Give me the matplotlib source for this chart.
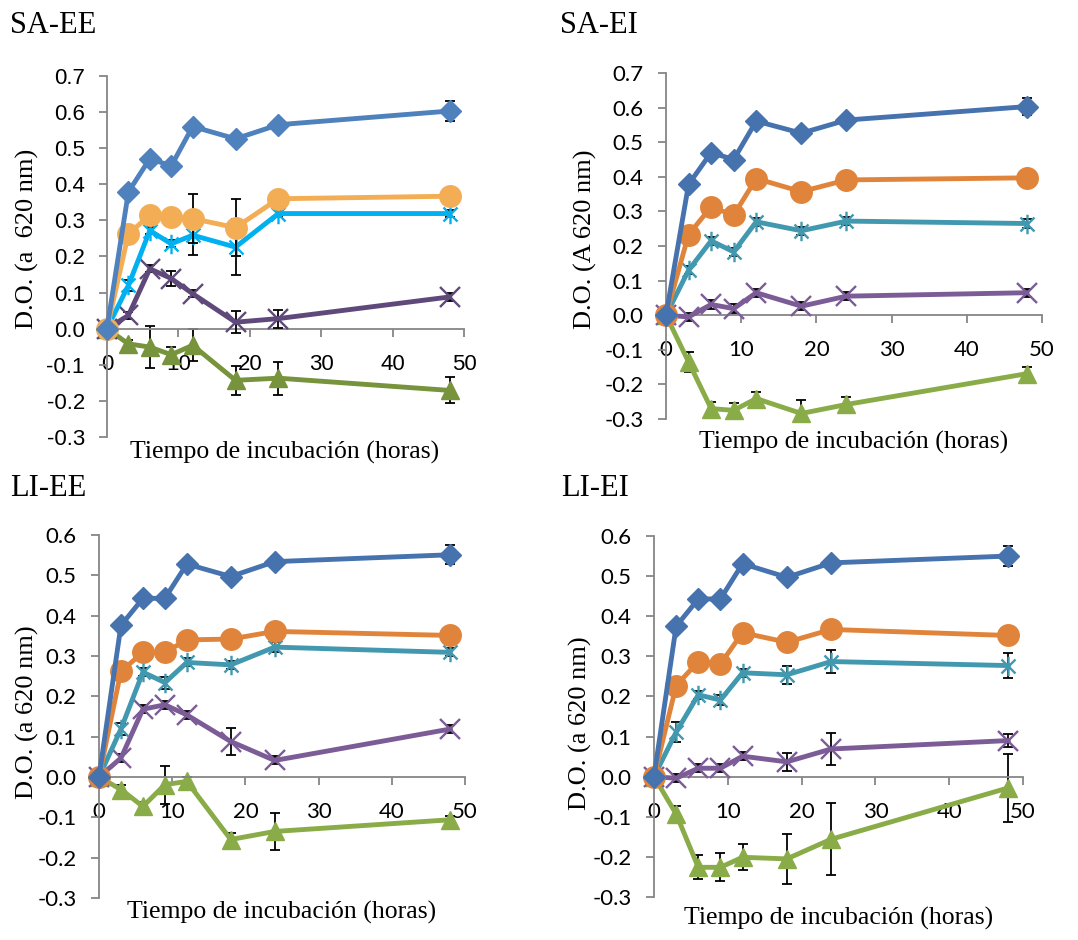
import matplotlib
matplotlib.use("Agg")
import matplotlib.pyplot as plt
from matplotlib.path import Path

# =====================
# Data (D.O. at 620 nm vs incubation time)
# =====================
horas = [0, 3, 6, 9, 12, 18, 24, 48]

sa_ee_azul = [0, 0.379, 0.471, 0.451, 0.560, 0.526, 0.565, 0.603]
sa_ee_azul_err = [0, 0.01, 0.01, 0.01, 0.01, 0.01, 0.01, 0.027]
sa_ee_naranja = [0, 0.263, 0.314, 0.309, 0.305, 0.280, 0.360, 0.367]
sa_ee_naranja_err = [0, 0.01, 0.01, 0.01, 0.068, 0.080, 0.01, 0.01]
sa_ee_cian = [0, 0.120, 0.272, 0.235, 0.259, 0.226, 0.319, 0.319]
sa_ee_cian_err = [0, 0.015, 0.01, 0.01, 0.055, 0.078, 0.01, 0.01]
sa_ee_morado = [0, 0.037, 0.166, 0.139, 0.097, 0.018, 0.028, 0.088]
sa_ee_morado_err = [0, 0.01, 0.01, 0.02, 0.01, 0.03, 0.025, 0.01]
sa_ee_verde = [0, -0.042, -0.051, -0.072, -0.046, -0.143, -0.137, -0.171]
sa_ee_verde_err = [0, 0.01, 0.059, 0.02, 0.044, 0.04, 0.046, 0.036]

sa_ei_azul = [0, 0.378, 0.470, 0.450, 0.561, 0.526, 0.564, 0.603]
sa_ei_azul_err = [0, 0.01, 0.01, 0.01, 0.01, 0.01, 0.01, 0.025]
sa_ei_naranja = [0, 0.233, 0.313, 0.289, 0.395, 0.357, 0.391, 0.397]
sa_ei_naranja_err = [0, 0.01, 0.01, 0.01, 0.01, 0.01, 0.01, 0.02]
sa_ei_cian = [0, 0.130, 0.215, 0.183, 0.270, 0.244, 0.272, 0.265]
sa_ei_cian_err = [0, 0.012, 0.012, 0.012, 0.012, 0.012, 0.012, 0.012]
sa_ei_morado = [0, -0.005, 0.031, 0.019, 0.065, 0.026, 0.055, 0.065]
sa_ei_morado_err = [0, 0.012, 0.012, 0.012, 0.012, 0.012, 0.012, 0.012]
sa_ei_verde = [0, -0.135, -0.270, -0.275, -0.241, -0.284, -0.258, -0.169]
sa_ei_verde_err = [0, 0.03, 0.02, 0.02, 0.02, 0.04, 0.022, 0.02]

li_ee_azul = [0, 0.376, 0.443, 0.443, 0.528, 0.497, 0.534, 0.551]
li_ee_azul_err = [0, 0.01, 0.01, 0.01, 0.01, 0.01, 0.01, 0.023]
li_ee_naranja = [0, 0.262, 0.309, 0.309, 0.340, 0.342, 0.361, 0.351]
li_ee_naranja_err = [0, 0.01, 0.01, 0.01, 0.01, 0.01, 0.01, 0.01]
li_ee_cian = [0, 0.119, 0.260, 0.234, 0.284, 0.278, 0.322, 0.309]
li_ee_cian_err = [0, 0.015, 0.01, 0.015, 0.01, 0.01, 0.012, 0.01]
li_ee_morado = [0, 0.047, 0.168, 0.179, 0.154, 0.088, 0.041, 0.119]
li_ee_morado_err = [0, 0.01, 0.01, 0.01, 0.01, 0.033, 0.01, 0.01]
li_ee_verde = [0, -0.031, -0.073, -0.019, -0.011, -0.155, -0.135, -0.106]
li_ee_verde_err = [0, 0.01, 0.01, 0.047, 0.011, 0.015, 0.046, 0.01]

li_ei_azul = [0, 0.375, 0.443, 0.443, 0.531, 0.497, 0.533, 0.550]
li_ei_azul_err = [0, 0.01, 0.01, 0.01, 0.01, 0.01, 0.01, 0.025]
li_ei_naranja = [0, 0.227, 0.287, 0.281, 0.359, 0.335, 0.367, 0.352]
li_ei_naranja_err = [0, 0.01, 0.01, 0.01, 0.01, 0.01, 0.01, 0.01]
li_ei_cian = [0, 0.111, 0.204, 0.191, 0.259, 0.254, 0.287, 0.277]
li_ei_cian_err = [0, 0.025, 0.01, 0.012, 0.01, 0.023, 0.029, 0.031]
li_ei_morado = [0, -0.004, 0.021, 0.021, 0.051, 0.037, 0.069, 0.090]
li_ei_morado_err = [0, 0.01, 0.01, 0.01, 0.01, 0.022, 0.04, 0.017]
li_ei_verde = [0, -0.093, -0.226, -0.226, -0.201, -0.205, -0.156, -0.028]
li_ei_verde_err = [0, 0.02, 0.03, 0.035, 0.032, 0.062, 0.09, 0.085]

W, H = 1078, 940

# Excel-style "star": vertical bar plus an x
star = Path([(0, -1), (0, 1), (-0.72, -0.72), (0.72, 0.72), (-0.72, 0.72), (0.72, -0.72)],
            [Path.MOVETO, Path.LINETO, Path.MOVETO, Path.LINETO, Path.MOVETO, Path.LINETO])

colores_a = ["#4F81BD", "#F3AD55", "#00B0F0", "#5F497A", "#77933C"]
colores_b = ["#4672AE", "#E0843C", "#4198AF", "#7C5C97", "#8AAC48"]

fig = plt.figure(figsize=(W / 100, H / 100), dpi=100)


def draw_panel(box_px, series, colores, ylim, titulo, title_px, ylabel, ylabel_px, xlabel_px, tickfont):
    l, r, t, b = box_px
    ax = fig.add_axes([l / W, 1 - b / H, (r - l) / W, (b - t) / H])
    markers = [("D", 11.5, 1.0), ("o", 15.5, 1.0), (star, 14, 1.7), ("x", 14, 1.7), ("^", 13.5, 1.0)]
    for i, (vals, errs) in enumerate(series):
        mk, ms, mew = markers[i]
        z = 10 - 2 * i
        ax.errorbar(horas, vals, yerr=errs, fmt="none", ecolor="black",
                    elinewidth=1.3, capsize=3.8, capthick=1.3, zorder=z - 0.5)
        ax.plot(horas, vals, color=colores[i], lw=3.5, marker=mk, ms=ms,
                mfc=colores[i], mec=colores[i], mew=mew, zorder=z, clip_on=False)

    ax.set_xlim(0, 50)
    ax.set_ylim(*ylim)
    ax.set_xticks(range(0, 51, 10))
    yt = [round(ylim[0] + 0.1 * k, 1) for k in range(int(round((ylim[1] - ylim[0]) / 0.1)) + 1)]
    ax.set_yticks(yt)
    ax.set_yticklabels([f"{v:.1f}" for v in yt])

    for s in ["top", "right"]:
        ax.spines[s].set_visible(False)
    ax.spines["bottom"].set_position(("data", 0))
    for s in ["left", "bottom"]:
        ax.spines[s].set_color("#868686")
        ax.spines[s].set_linewidth(1.3)
    ax.tick_params(axis="both", direction="out", color="#868686", width=1.3, length=6,
                   labelsize=16)
    ax.tick_params(axis="x", pad=12)
    ax.tick_params(axis="y", pad=10)
    for lab in ax.get_xticklabels() + ax.get_yticklabels():
        lab.set_fontfamily(tickfont)
    ax.patch.set_alpha(0)

    ax.set_xlabel("Tiempo de incubación (horas)", fontfamily="Liberation Serif", fontsize=18.5)
    ax.xaxis.set_label_coords(xlabel_px[0] / W, 1 - xlabel_px[1] / H, transform=fig.transFigure)
    ax.xaxis.label.set_va("center")
    ax.set_ylabel(ylabel, fontfamily="Liberation Serif", fontsize=19)
    ax.yaxis.set_label_coords(ylabel_px[0] / W, 1 - ylabel_px[1] / H, transform=fig.transFigure)
    ax.yaxis.label.set_va("center")

    fig.text(title_px[0] / W, 1 - title_px[1] / H, titulo, fontfamily="Liberation Serif",
             fontsize=22, ha="left", va="baseline")
    return ax


# ---------------------------------
# SA-EE
# ---------------------------------
draw_panel((107, 464, 76, 437),
           [(sa_ee_azul, sa_ee_azul_err), (sa_ee_naranja, sa_ee_naranja_err),
            (sa_ee_cian, sa_ee_cian_err), (sa_ee_morado, sa_ee_morado_err),
            (sa_ee_verde, sa_ee_verde_err)],
           colores_a, (-0.3, 0.7), "SA-EE", (10, 33), "D.O. (a  620 nm)", (27, 239),
           (285, 452), "Liberation Sans")

# ---------------------------------
# SA-EI
# ---------------------------------
draw_panel((666, 1042, 73, 419),
           [(sa_ei_azul, sa_ei_azul_err), (sa_ei_naranja, sa_ei_naranja_err),
            (sa_ei_cian, sa_ei_cian_err), (sa_ei_morado, sa_ei_morado_err),
            (sa_ei_verde, sa_ei_verde_err)],
           colores_b, (-0.3, 0.7), "SA-EI", (560, 33), "D.O. (A 620 nm)", (585, 239),
           (854, 442), "Lato")

# ---------------------------------
# LI-EE
# ---------------------------------
draw_panel((99, 465, 535, 898),
           [(li_ee_azul, li_ee_azul_err), (li_ee_naranja, li_ee_naranja_err),
            (li_ee_cian, li_ee_cian_err), (li_ee_morado, li_ee_morado_err),
            (li_ee_verde, li_ee_verde_err)],
           colores_b, (-0.3, 0.6), "LI-EE", (10, 496), "D.O. (a 620 nm)", (27, 712),
           (282, 912), "Lato")

# ---------------------------------
# LI-EI
# ---------------------------------
draw_panel((654, 1023, 536, 897),
           [(li_ei_azul, li_ei_azul_err), (li_ei_naranja, li_ei_naranja_err),
            (li_ei_cian, li_ei_cian_err), (li_ei_morado, li_ei_morado_err),
            (li_ei_verde, li_ei_verde_err)],
           colores_b, (-0.3, 0.6), "LI-EI", (561, 496), "D.O. (a 620 nm)", (580, 723),
           (839, 918), "Lato")

plt.savefig("out.png", dpi=100)
